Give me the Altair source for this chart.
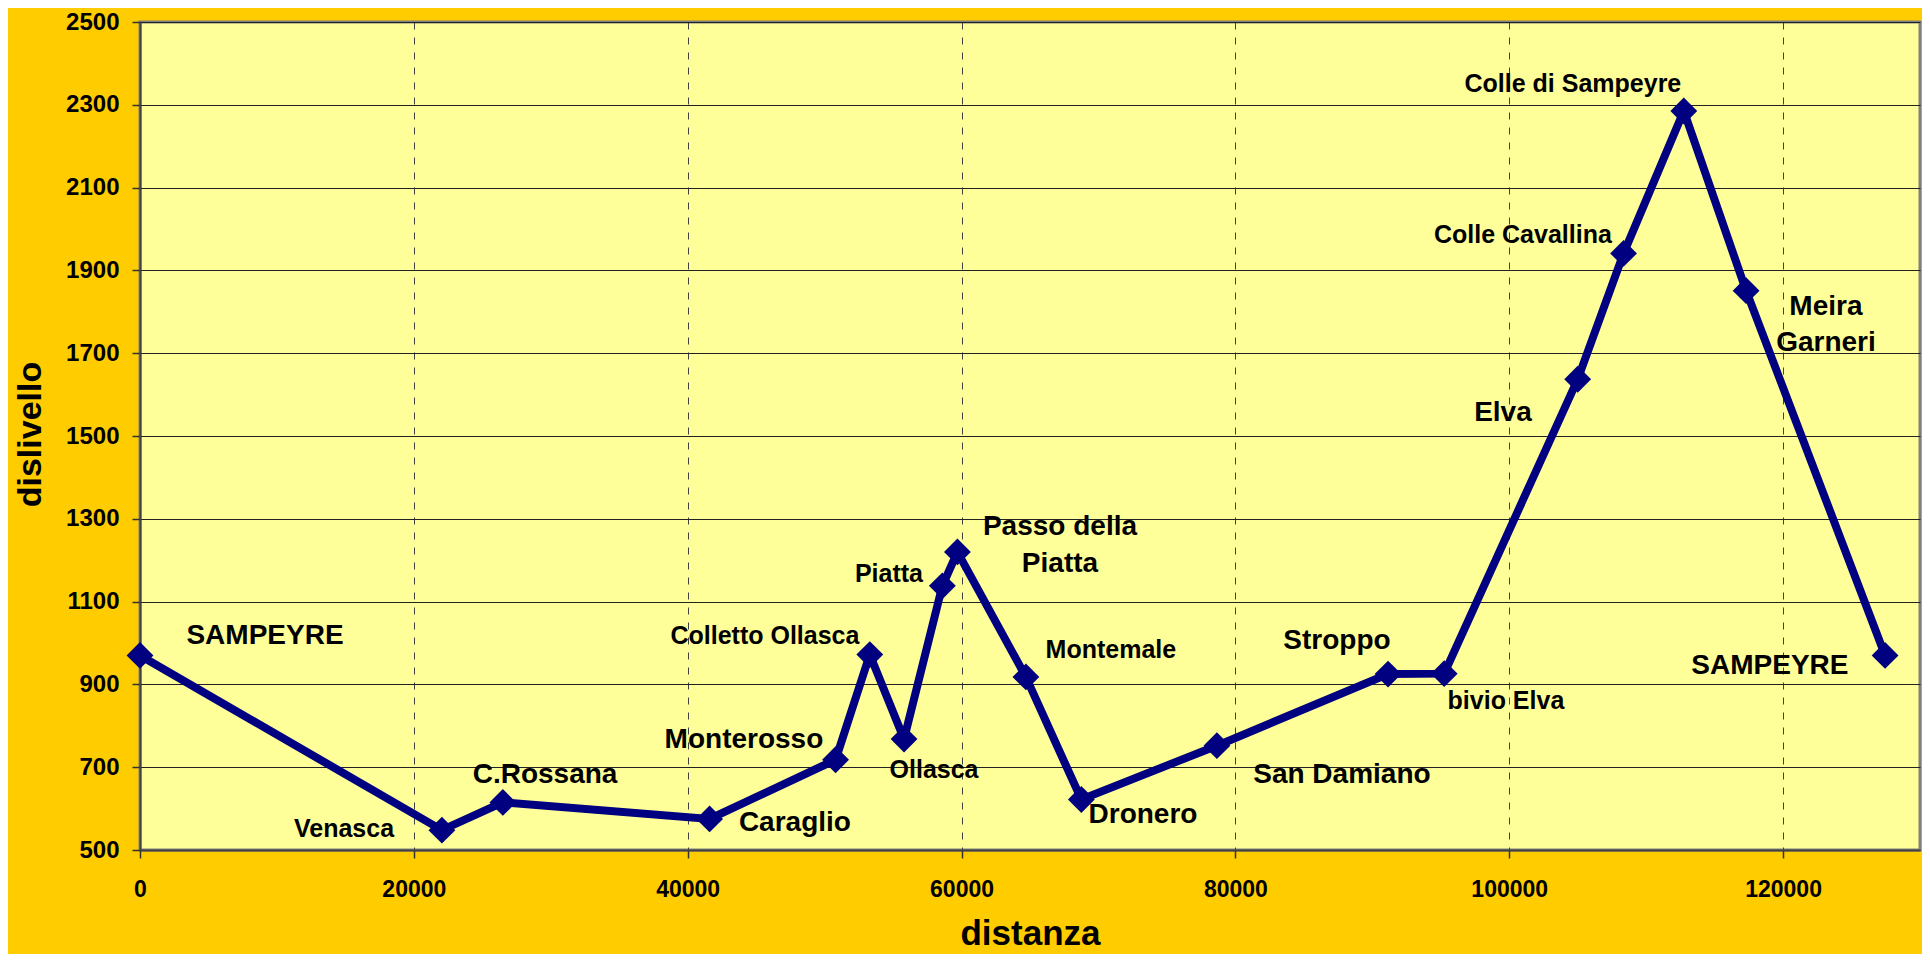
import altair as alt
import pandas as pd

FONT = "Liberation Sans"

# ---- data ----
places = ["SAMPEYRE", "Venasca", "C.Rossana", "Caraglio", "Monterosso",
          "Colletto Ollasca", "Ollasca", "Piatta", "Passo della Piatta",
          "Montemale", "Dronero", "San Damiano", "Stroppo", "bivio Elva",
          "Elva", "Colle Cavallina", "Colle di Sampeyre", "Meira Garneri",
          "SAMPEYRE"]
distanza = [0, 22050, 26500, 41600, 50800, 53300, 55800, 58600, 59700,
            64700, 68750, 78650, 91150, 95250, 105000, 108350, 112750,
            117300, 127450]
dislivello = [970, 548, 615, 575, 718, 972, 768, 1138, 1220, 918, 622,
              752, 925, 926, 1637, 1941, 2285, 1851, 970]

# label anchors (data units)
big_text = ["SAMPEYRE", "C.Rossana", "Caraglio", "Monterosso", "Passo della",
            "Piatta", "Dronero", "San Damiano", "Stroppo", "SAMPEYRE", "Elva",
            "Meira", "Garneri"]
big_x = [9130, 29580, 47830, 44110, 67190, 67190, 73250, 87780, 87420,
         119040, 99540, 123130, 123130]
big_y = [997, 663, 546, 747, 1261, 1172, 565, 663, 985, 925, 1537, 1792, 1706]

small_text = ["Venasca", "Colletto Ollasca", "Ollasca", "Piatta", "Montemale",
              "bivio Elva", "Colle Cavallina", "Colle di Sampeyre"]
small_x = [14900, 45640, 57990, 54700, 70910, 99760, 101000, 104650]
small_y = [531, 997, 673, 1148, 963, 841, 1965, 2332]

x_ticks = [0, 20000, 40000, 60000, 80000, 100000, 120000]
y_ticks = [500, 700, 900, 1100, 1300, 1500, 1700, 1900, 2100, 2300, 2500]

# ---- tables ----
route = pd.DataFrame({"luogo": places, "distanza": distanza, "dislivello": dislivello})
big = pd.DataFrame({"t": big_text, "distanza": big_x, "dislivello": big_y})
small = pd.DataFrame({"t": small_text, "distanza": small_x, "dislivello": small_y})

xscale = alt.Scale(domain=[0, 130000], nice=False, zero=False)
yscale = alt.Scale(domain=[500, 2500], nice=False, zero=False)

xaxis = alt.Axis(
    values=x_ticks, format="d", title="distanza",
    titleFont=FONT, titleFontSize=35, titleFontWeight="bold", titleColor="black",
    titleX=890, titleY=94, titleBaseline="alphabetic", titleAlign="center",
    labelFont=FONT, labelFontSize=23, labelFontWeight="bold", labelColor="black",
    labelPadding=20, labelFlush=False, labelOverlap=False,
    tickSize=8, tickColor="#333333", tickWidth=1.5,
    domainColor="#404040", domainWidth=2,
    grid=True, gridDash=[7, 8], gridColor="#404040", gridWidth=1,
)
yaxis = alt.Axis(
    values=y_ticks, format="d", title="dislivello",
    titleFont=FONT, titleFontSize=34, titleFontWeight="bold", titleColor="black",
    titleAngle=270, titleX=-100, titleY=412, titleBaseline="alphabetic",
    titleAlign="center",
    labelFont=FONT, labelFontSize=24, labelFontWeight="bold", labelColor="black",
    labelPadding=13, labelFlush=False, labelOverlap=False,
    tickSize=8, tickColor="#333333", tickWidth=1.5,
    domainColor="#404040", domainWidth=2,
    grid=True, gridColor="#222222", gridWidth=1.2,
)

base = alt.Chart(route)

line = base.mark_line(color="#000080", strokeWidth=8).encode(
    x=alt.X("distanza:Q", scale=xscale, axis=xaxis),
    y=alt.Y("dislivello:Q", scale=yscale, axis=yaxis),
    order=alt.Order("distanza:Q"),
)
pts = base.mark_point(shape="diamond", filled=True, size=720, color="#000080",
                      opacity=1).encode(
    x=alt.X("distanza:Q", scale=xscale),
    y=alt.Y("dislivello:Q", scale=yscale),
)
big_lbl = alt.Chart(big).mark_text(
    font=FONT, fontSize=28, fontWeight="bold", color="black",
    align="center", baseline="alphabetic",
).encode(
    x=alt.X("distanza:Q", scale=xscale),
    y=alt.Y("dislivello:Q", scale=yscale),
    text="t:N",
)
small_lbl = alt.Chart(small).mark_text(
    font=FONT, fontSize=25, fontWeight="bold", color="black",
    align="center", baseline="alphabetic",
).encode(
    x=alt.X("distanza:Q", scale=xscale),
    y=alt.Y("dislivello:Q", scale=yscale),
    text="t:N",
)

chart = alt.layer(line, pts, big_lbl, small_lbl).properties(
    width=1780, height=828,
    autosize=alt.AutoSizeParams(type="none"),
    padding={"left": 132, "top": 14, "right": 2, "bottom": 104},
).configure(
    background="#FFCC00",
).configure_view(
    fill="#FFFF99", stroke="#808080", strokeWidth=3,
)

chart.save("out.html", embed_options={"renderer": "svg", "actions": False})
